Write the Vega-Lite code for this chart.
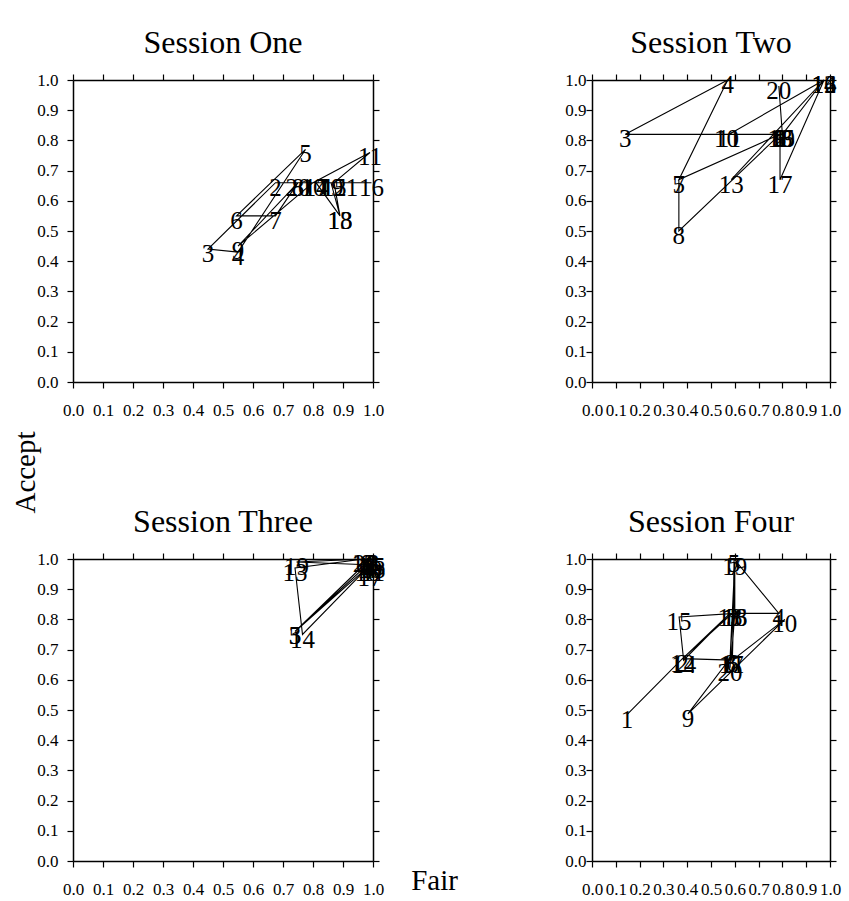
{
  "$schema": "https://vega.github.io/schema/vega-lite/v6.json",
  "padding": {"left": 11, "top": 27, "right": 5, "bottom": 5},
  "background": "white",
  "config": {
    "font": "Liberation Serif",
    "view": {"stroke": null},
    "axis": {"grid": false, "domainColor": "#000", "domainWidth": 1.5, "tickColor": "#000", "tickSize": 6, "tickWidth": 1.2, "labelFont": "Liberation Serif", "labelFontSize": 17, "labelColor": "#000", "labelOverlap": false, "labelFlush": false, "titleFont": "Liberation Serif", "titleFontSize": 29, "titleFontWeight": "normal", "titleColor": "#000"},
    "title": {"font": "Liberation Serif", "fontSize": 32, "fontWeight": "normal", "color": "#000", "anchor": "middle", "frame": "group", "offset": 11}
  },
  "data": {"values": [
    {"session": "One", "trial": 1, "fair": 0.93, "accept": 0.66},
    {"session": "One", "trial": 2, "fair": 0.675, "accept": 0.66},
    {"session": "One", "trial": 3, "fair": 0.45, "accept": 0.44},
    {"session": "One", "trial": 4, "fair": 0.55, "accept": 0.43},
    {"session": "One", "trial": 5, "fair": 0.775, "accept": 0.77},
    {"session": "One", "trial": 6, "fair": 0.545, "accept": 0.55},
    {"session": "One", "trial": 7, "fair": 0.675, "accept": 0.55},
    {"session": "One", "trial": 8, "fair": 0.75, "accept": 0.66},
    {"session": "One", "trial": 9, "fair": 0.55, "accept": 0.45},
    {"session": "One", "trial": 10, "fair": 0.8, "accept": 0.66},
    {"session": "One", "trial": 11, "fair": 0.99, "accept": 0.76},
    {"session": "One", "trial": 12, "fair": 0.87, "accept": 0.66},
    {"session": "One", "trial": 13, "fair": 0.89, "accept": 0.55},
    {"session": "One", "trial": 14, "fair": 0.81, "accept": 0.66},
    {"session": "One", "trial": 15, "fair": 0.87, "accept": 0.66},
    {"session": "One", "trial": 16, "fair": 0.995, "accept": 0.66},
    {"session": "One", "trial": 17, "fair": 0.81, "accept": 0.66},
    {"session": "One", "trial": 18, "fair": 0.89, "accept": 0.55},
    {"session": "One", "trial": 19, "fair": 0.86, "accept": 0.66},
    {"session": "One", "trial": 20, "fair": 0.75, "accept": 0.66},
    {"session": "Two", "trial": 1, "fair": 0.79, "accept": 0.82},
    {"session": "Two", "trial": 2, "fair": 0.79, "accept": 0.82},
    {"session": "Two", "trial": 3, "fair": 0.14, "accept": 0.82},
    {"session": "Two", "trial": 4, "fair": 0.57, "accept": 1.0},
    {"session": "Two", "trial": 5, "fair": 0.365, "accept": 0.67},
    {"session": "Two", "trial": 6, "fair": 0.79, "accept": 0.82},
    {"session": "Two", "trial": 7, "fair": 0.365, "accept": 0.67},
    {"session": "Two", "trial": 8, "fair": 0.365, "accept": 0.5},
    {"session": "Two", "trial": 9, "fair": 0.79, "accept": 0.82},
    {"session": "Two", "trial": 10, "fair": 0.565, "accept": 0.82},
    {"session": "Two", "trial": 11, "fair": 0.575, "accept": 0.82},
    {"session": "Two", "trial": 12, "fair": 0.975, "accept": 1.0},
    {"session": "Two", "trial": 13, "fair": 0.585, "accept": 0.67},
    {"session": "Two", "trial": 14, "fair": 0.975, "accept": 1.0},
    {"session": "Two", "trial": 15, "fair": 0.8, "accept": 0.82},
    {"session": "Two", "trial": 16, "fair": 0.975, "accept": 1.0},
    {"session": "Two", "trial": 17, "fair": 0.79, "accept": 0.67},
    {"session": "Two", "trial": 18, "fair": 0.79, "accept": 0.82},
    {"session": "Two", "trial": 19, "fair": 0.8, "accept": 0.82},
    {"session": "Two", "trial": 20, "fair": 0.785, "accept": 0.98},
    {"session": "Three", "trial": 1, "fair": 0.97, "accept": 0.99},
    {"session": "Three", "trial": 2, "fair": 0.99, "accept": 1.0},
    {"session": "Three", "trial": 3, "fair": 0.74, "accept": 0.76},
    {"session": "Three", "trial": 4, "fair": 0.99, "accept": 0.98},
    {"session": "Three", "trial": 5, "fair": 0.74, "accept": 0.76},
    {"session": "Three", "trial": 6, "fair": 0.98, "accept": 0.98},
    {"session": "Three", "trial": 7, "fair": 0.99, "accept": 0.97},
    {"session": "Three", "trial": 8, "fair": 1.0, "accept": 1.0},
    {"session": "Three", "trial": 9, "fair": 0.98, "accept": 1.0},
    {"session": "Three", "trial": 10, "fair": 0.99, "accept": 0.98},
    {"session": "Three", "trial": 11, "fair": 1.0, "accept": 0.97},
    {"session": "Three", "trial": 12, "fair": 0.97, "accept": 1.0},
    {"session": "Three", "trial": 13, "fair": 0.74, "accept": 0.97},
    {"session": "Three", "trial": 14, "fair": 0.765, "accept": 0.75},
    {"session": "Three", "trial": 15, "fair": 1.0, "accept": 0.99},
    {"session": "Three", "trial": 16, "fair": 0.98, "accept": 0.97},
    {"session": "Three", "trial": 17, "fair": 0.99, "accept": 0.955},
    {"session": "Three", "trial": 18, "fair": 1.0, "accept": 0.98},
    {"session": "Three", "trial": 19, "fair": 0.745, "accept": 0.99},
    {"session": "Three", "trial": 20, "fair": 0.975, "accept": 1.0},
    {"session": "Four", "trial": 1, "fair": 0.147, "accept": 0.485},
    {"session": "Four", "trial": 2, "fair": 0.38, "accept": 0.67},
    {"session": "Four", "trial": 3, "fair": 0.59, "accept": 0.82},
    {"session": "Four", "trial": 4, "fair": 0.785, "accept": 0.82},
    {"session": "Four", "trial": 5, "fair": 0.597, "accept": 1.0},
    {"session": "Four", "trial": 6, "fair": 0.59, "accept": 0.67},
    {"session": "Four", "trial": 7, "fair": 0.6, "accept": 0.99},
    {"session": "Four", "trial": 8, "fair": 0.58, "accept": 0.67},
    {"session": "Four", "trial": 9, "fair": 0.403, "accept": 0.487},
    {"session": "Four", "trial": 10, "fair": 0.81, "accept": 0.8},
    {"session": "Four", "trial": 11, "fair": 0.59, "accept": 0.665},
    {"session": "Four", "trial": 12, "fair": 0.38, "accept": 0.67},
    {"session": "Four", "trial": 13, "fair": 0.58, "accept": 0.82},
    {"session": "Four", "trial": 14, "fair": 0.385, "accept": 0.665},
    {"session": "Four", "trial": 15, "fair": 0.366, "accept": 0.808},
    {"session": "Four", "trial": 16, "fair": 0.6, "accept": 0.82},
    {"session": "Four", "trial": 17, "fair": 0.585, "accept": 0.665},
    {"session": "Four", "trial": 18, "fair": 0.6, "accept": 0.82},
    {"session": "Four", "trial": 19, "fair": 0.6, "accept": 0.99},
    {"session": "Four", "trial": 20, "fair": 0.58, "accept": 0.64}
  ]},
  "columns": 2,
  "align": "each",
  "bounds": "flush",
  "spacing": {"row": 177, "column": 219},
  "concat": [
    {
      "width": 300, "height": 302,
      "title": "Session One",
      "transform": [{"filter": {"field": "session", "equal": "One"}}],
      "layer": [
        {"mark": {"type": "line", "color": "#000", "strokeWidth": 1.1},
         "encoding": {
           "order": {"field": "trial", "type": "quantitative"},
           "x": {"field": "fair", "type": "quantitative", "scale": {"domain": [0, 1], "nice": false}, "axis": {"orient": "bottom", "values": [0,0.1,0.2,0.3,0.4,0.5,0.6,0.7,0.8,0.9,1], "format": ".1f", "labelPadding": 14, "title": null}},
           "y": {"field": "accept", "type": "quantitative", "scale": {"domain": [0, 1], "nice": false}, "axis": {"orient": "left", "values": [0,0.1,0.2,0.3,0.4,0.5,0.6,0.7,0.8,0.9,1], "format": ".1f", "labelPadding": 9, "title": "Accept", "titleX": -48, "titleY": 392, "titleAngle": 270, "titleAlign": "center", "titleBaseline": "middle"}}
         }},
        {"mark": {"type": "text", "fontSize": 25, "font": "Liberation Serif", "color": "#000", "baseline": "middle", "align": "center", "dy": 5},
         "encoding": {
           "text": {"field": "trial", "type": "nominal"},
           "x": {"field": "fair", "type": "quantitative", "scale": {"domain": [0, 1], "nice": false}, "axis": {"orient": "top", "values": [0,0.1,0.2,0.3,0.4,0.5,0.6,0.7,0.8,0.9,1], "labels": false, "title": null}},
           "y": {"field": "accept", "type": "quantitative", "scale": {"domain": [0, 1], "nice": false}, "axis": {"orient": "right", "values": [0,0.1,0.2,0.3,0.4,0.5,0.6,0.7,0.8,0.9,1], "labels": false, "title": null}}
         }}
      ],
      "resolve": {"axis": {"x": "independent", "y": "independent"}}
    },
    {
      "width": 238, "height": 302,
      "title": "Session Two",
      "transform": [{"filter": {"field": "session", "equal": "Two"}}],
      "layer": [
        {"mark": {"type": "line", "color": "#000", "strokeWidth": 1.1},
         "encoding": {
           "order": {"field": "trial", "type": "quantitative"},
           "x": {"field": "fair", "type": "quantitative", "scale": {"domain": [0, 1], "nice": false}, "axis": {"orient": "bottom", "values": [0,0.1,0.2,0.3,0.4,0.5,0.6,0.7,0.8,0.9,1], "format": ".1f", "labelPadding": 14, "title": null}},
           "y": {"field": "accept", "type": "quantitative", "scale": {"domain": [0, 1], "nice": false}, "axis": {"orient": "left", "values": [0,0.1,0.2,0.3,0.4,0.5,0.6,0.7,0.8,0.9,1], "format": ".1f", "labelPadding": 0, "title": null}}
         }},
        {"mark": {"type": "text", "fontSize": 25, "font": "Liberation Serif", "color": "#000", "baseline": "middle", "align": "center", "dy": 5},
         "encoding": {
           "text": {"field": "trial", "type": "nominal"},
           "x": {"field": "fair", "type": "quantitative", "scale": {"domain": [0, 1], "nice": false}, "axis": {"orient": "top", "values": [0,0.1,0.2,0.3,0.4,0.5,0.6,0.7,0.8,0.9,1], "labels": false, "title": null}},
           "y": {"field": "accept", "type": "quantitative", "scale": {"domain": [0, 1], "nice": false}, "axis": {"orient": "right", "values": [0,0.1,0.2,0.3,0.4,0.5,0.6,0.7,0.8,0.9,1], "labels": false, "title": null}}
         }}
      ],
      "resolve": {"axis": {"x": "independent", "y": "independent"}}
    },
    {
      "width": 300, "height": 302,
      "title": "Session Three",
      "transform": [{"filter": {"field": "session", "equal": "Three"}}],
      "layer": [
        {"mark": {"type": "line", "color": "#000", "strokeWidth": 1.1},
         "encoding": {
           "order": {"field": "trial", "type": "quantitative"},
           "x": {"field": "fair", "type": "quantitative", "scale": {"domain": [0, 1], "nice": false}, "axis": {"orient": "bottom", "values": [0,0.1,0.2,0.3,0.4,0.5,0.6,0.7,0.8,0.9,1], "format": ".1f", "labelPadding": 14, "title": "Fair", "titleX": 361, "titleY": 19, "titleAlign": "center", "titleBaseline": "middle"}},
           "y": {"field": "accept", "type": "quantitative", "scale": {"domain": [0, 1], "nice": false}, "axis": {"orient": "left", "values": [0,0.1,0.2,0.3,0.4,0.5,0.6,0.7,0.8,0.9,1], "format": ".1f", "labelPadding": 9, "title": null}}
         }},
        {"mark": {"type": "text", "fontSize": 25, "font": "Liberation Serif", "color": "#000", "baseline": "middle", "align": "center", "dy": 5},
         "encoding": {
           "text": {"field": "trial", "type": "nominal"},
           "x": {"field": "fair", "type": "quantitative", "scale": {"domain": [0, 1], "nice": false}, "axis": {"orient": "top", "values": [0,0.1,0.2,0.3,0.4,0.5,0.6,0.7,0.8,0.9,1], "labels": false, "title": null}},
           "y": {"field": "accept", "type": "quantitative", "scale": {"domain": [0, 1], "nice": false}, "axis": {"orient": "right", "values": [0,0.1,0.2,0.3,0.4,0.5,0.6,0.7,0.8,0.9,1], "labels": false, "title": null}}
         }}
      ],
      "resolve": {"axis": {"x": "independent", "y": "independent"}}
    },
    {
      "width": 238, "height": 302,
      "title": "Session Four",
      "transform": [{"filter": {"field": "session", "equal": "Four"}}],
      "layer": [
        {"mark": {"type": "line", "color": "#000", "strokeWidth": 1.1},
         "encoding": {
           "order": {"field": "trial", "type": "quantitative"},
           "x": {"field": "fair", "type": "quantitative", "scale": {"domain": [0, 1], "nice": false}, "axis": {"orient": "bottom", "values": [0,0.1,0.2,0.3,0.4,0.5,0.6,0.7,0.8,0.9,1], "format": ".1f", "labelPadding": 14, "title": null}},
           "y": {"field": "accept", "type": "quantitative", "scale": {"domain": [0, 1], "nice": false}, "axis": {"orient": "left", "values": [0,0.1,0.2,0.3,0.4,0.5,0.6,0.7,0.8,0.9,1], "format": ".1f", "labelPadding": 0, "title": null}}
         }},
        {"mark": {"type": "text", "fontSize": 25, "font": "Liberation Serif", "color": "#000", "baseline": "middle", "align": "center", "dy": 5},
         "encoding": {
           "text": {"field": "trial", "type": "nominal"},
           "x": {"field": "fair", "type": "quantitative", "scale": {"domain": [0, 1], "nice": false}, "axis": {"orient": "top", "values": [0,0.1,0.2,0.3,0.4,0.5,0.6,0.7,0.8,0.9,1], "labels": false, "title": null}},
           "y": {"field": "accept", "type": "quantitative", "scale": {"domain": [0, 1], "nice": false}, "axis": {"orient": "right", "values": [0,0.1,0.2,0.3,0.4,0.5,0.6,0.7,0.8,0.9,1], "labels": false, "title": null}}
         }}
      ],
      "resolve": {"axis": {"x": "independent", "y": "independent"}}
    }
  ]
}
